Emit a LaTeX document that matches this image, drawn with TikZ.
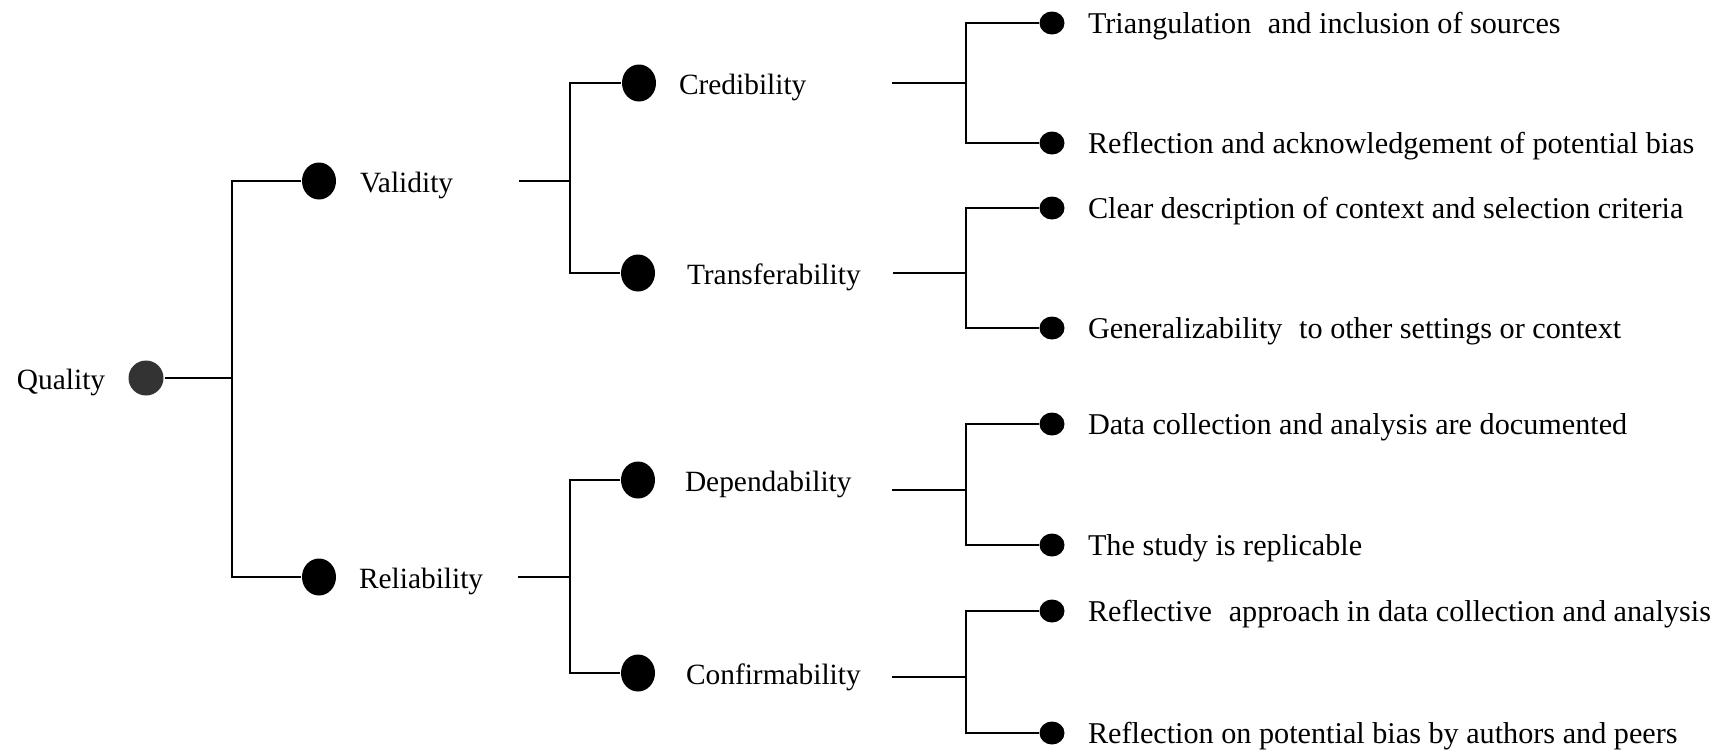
\documentclass[tikz,border=0pt]{standalone}
\usepackage{fontspec}
\setmainfont{Liberation Serif}
\usetikzlibrary{shapes.geometric}
\begin{document}
\begin{tikzpicture}[x=0.5pt,y=-0.5pt,
  line width=1pt,
  rootdot/.style={circle,fill=black!80,inner sep=0pt,minimum size=17.5pt},
  bigdot/.style={ellipse,fill=black,inner sep=0pt,minimum width=17pt,minimum height=18.5pt},
  leafdot/.style={ellipse,fill=black,inner sep=0pt,minimum width=12.5pt,minimum height=11.5pt},
  txt/.style={anchor=base west,inner sep=0pt,font=\fontsize{14.7}{17}\selectfont},
  leaftxt/.style={txt,font=\fontsize{15.1}{17}\selectfont},
]
\useasboundingbox (0,0) rectangle (1717,750);

% root
\node[rootdot] (qdot) at (146,378) {};
\node[txt] (qtxt) at (16,389) {Quality};
\coordinate (j0) at (232,378);

% first level
\node[bigdot] (vdot) at (319,181) {};
\node[txt] (vtxt) at (359,192) {Validity};
\node[bigdot] (rdot) at (319,577) {};
\node[txt] (rtxt) at (358,588) {Reliability};
\draw (qdot.east) -- (j0);
\draw (vdot.west) -| (j0) |- (rdot.west);

% second level under Validity
\coordinate (vout) at (519,181);
\coordinate (j1) at (570,181);
\node[bigdot] (cdot) at (639,83) {};
\node[txt] (ctxt) at (678,94) {Credibility};
\node[bigdot] (tdot) at (638,273) {};
\node[txt] (ttxt) at (686,284) {Transferability};
\draw (vout) -- (j1);
\draw (cdot.west) -| (j1) |- (tdot.west);

% second level under Reliability
\coordinate (rout) at (518,577);
\coordinate (j2) at (570,577);
\node[bigdot] (ddot) at (638,480) {};
\node[txt] (dtxt) at (684,491) {Dependability};
\node[bigdot] (fdot) at (638,673) {};
\node[txt] (ftxt) at (685,684) {Confirmability};
\draw (rout) -- (j2);
\draw (ddot.west) -| (j2) |- (fdot.west);

% third level: Credibility
\coordinate (cout) at (892,83);
\coordinate (j3) at (966,83);
\node[leafdot] (c1) at (1052,23) {};
\node[leaftxt] at (1087,33) {Triangulation\hspace{0.3em} and inclusion of sources};
\node[leafdot] (c2) at (1052,143) {};
\node[leaftxt] at (1087,153) {Reflection and acknowledgement of potential bias};
\draw (cout) -- (j3);
\draw (c1.west) -| (j3) |- (c2.west);

% third level: Transferability
\coordinate (tout) at (893,273);
\coordinate (j4) at (966,273);
\node[leafdot] (t1) at (1052,208) {};
\node[leaftxt] at (1087,218) {Clear description of context and selection criteria};
\node[leafdot] (t2) at (1052,328) {};
\node[leaftxt] at (1087,338) {Generalizability\hspace{0.3em} to other settings or context};
\draw (tout) -- (j4);
\draw (t1.west) -| (j4) |- (t2.west);

% third level: Dependability
\coordinate (dout) at (892,490);
\coordinate (j5) at (966,490);
\node[leafdot] (d1) at (1052,424) {};
\node[leaftxt] at (1087,434) {Data collection and analysis are documented};
\node[leafdot] (d2) at (1052,545) {};
\node[leaftxt] at (1087,555) {The study is replicable};
\draw (dout) -- (j5);
\draw (d1.west) -| (j5) |- (d2.west);

% third level: Confirmability
\coordinate (fout) at (892,677);
\coordinate (j6) at (966,677);
\node[leafdot] (f1) at (1052,611) {};
\node[leaftxt] at (1087,621) {Reflective\hspace{0.3em} approach in data collection and analysis};
\node[leafdot] (f2) at (1052,733) {};
\node[leaftxt] at (1087,743) {Reflection on potential bias by authors and peers};
\draw (fout) -- (j6);
\draw (f1.west) -| (j6) |- (f2.west);
\end{tikzpicture}
\end{document}
